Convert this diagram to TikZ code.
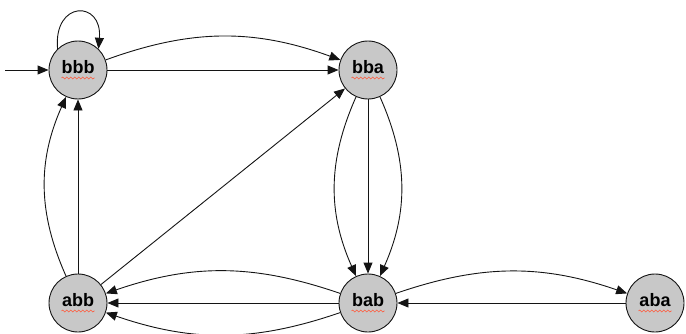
\documentclass[tikz,border=0pt]{standalone}
\usepackage{fontspec}
\setmainfont{Liberation Sans}
\usetikzlibrary{arrows.meta,decorations.pathmorphing}
\definecolor{stategray}{RGB}{200,200,200}
\definecolor{lineink}{RGB}{20,20,20}
\definecolor{squigred}{RGB}{255,90,60}
\begin{document}
\begin{tikzpicture}[x=1pt,y=1pt,
  state/.style={circle,draw=lineink,line width=0.9pt,fill=stategray,minimum size=58pt,inner sep=0pt,
    font=\fontsize{18}{18}\selectfont\bfseries,text height=11pt,text depth=5pt},
  edge/.style={draw=lineink,line width=0.9pt,-{Triangle[length=11pt,width=9pt]}},
  squig/.style={draw=squigred,line width=0.6pt,decorate,decoration={snake,segment length=4pt,amplitude=1pt}}]
\useasboundingbox (0,0) rectangle (686,333);
\node[state] (bbb) at (78,263) {bbb};
\node[state] (bba) at (368,263) {bba};
\node[state] (abb) at (78,30) {abb};
\node[state] (bab) at (368,30) {bab};
\node[state] (aba) at (655,30) {aba};
\foreach \n in {bbb,bba,abb,bab,aba}
  \draw[squig] ([shift={(-16.5,-8)}]\n.center) -- ++(33,0);
\coordinate (init) at (5,263);
\draw[edge] (init) -- (bbb);
\draw[edge] (bbb.134) .. controls +(95:49) and +(85:49) .. (bbb.46);
\draw[edge] (bbb) -- (bba);
\draw[edge] (bbb) to[bend left=20] (bba);
\draw[edge] (abb) -- (bba);
\draw[edge] (abb) -- (bbb);
\draw[edge] (abb) to[bend left=24] (bbb);
\draw[edge] (bba) -- (bab);
\draw[edge] (bba) to[bend left=24] (bab);
\draw[edge] (bba) to[bend right=24] (bab);
\draw[edge] (bab) -- (abb);
\draw[edge] (bab) to[bend left=19] (abb);
\draw[edge] (bab) to[bend right=19] (abb);
\draw[edge] (bab) to[bend left=19] (aba);
\draw[edge] (aba) -- (bab);
\end{tikzpicture}
\end{document}
